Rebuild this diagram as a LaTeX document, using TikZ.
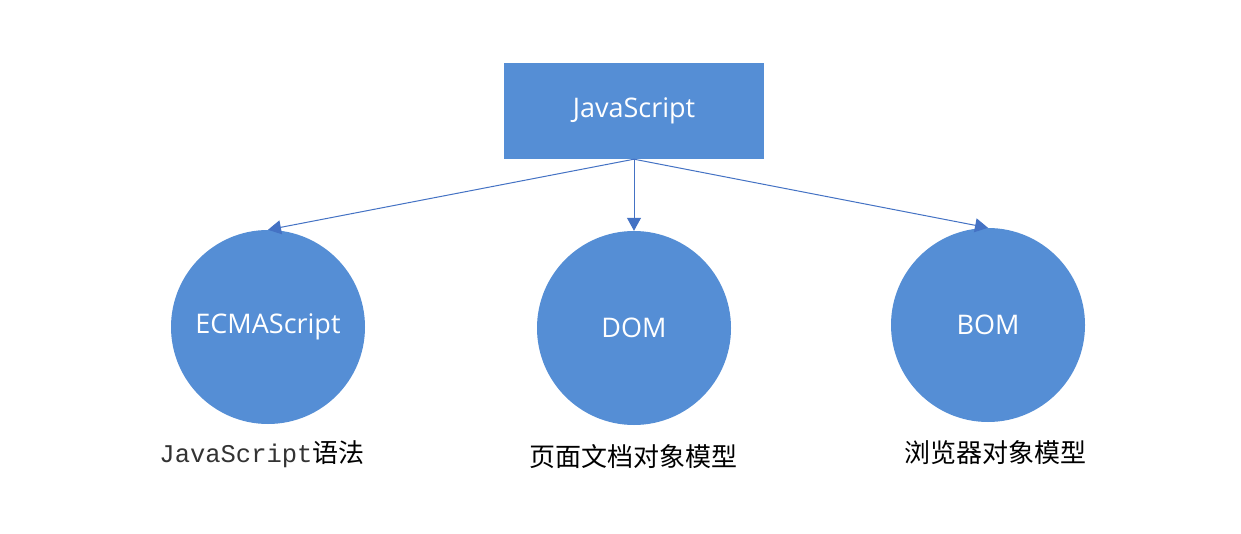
\documentclass[tikz,border=0pt]{standalone}
\usepackage{fontspec}
\setmainfont{Open Sans}
\newfontfamily\cjk{Noto Sans CJK SC}
\newfontfamily\monofnt{Liberation Mono}
\usetikzlibrary{arrows.meta}
\definecolor{boxblue}{HTML}{558ED5}
\definecolor{lineblue}{HTML}{4472C4}
\begin{document}
\begin{tikzpicture}[x=1pt,y=-1pt,
  blk/.style={fill=boxblue,draw=none,text=white,font=\fontsize{27}{31}\selectfont},
  circ/.style={circle,fill=boxblue,draw=none,minimum size=194pt,inner sep=0pt,text=white,font=\fontsize{27}{31}\selectfont},
  conn/.style={draw=lineblue,line width=1pt,-{Triangle[length=13pt,width=14pt]}},
  lbl/.style={font=\fontsize{26}{30}\selectfont\cjk,text=black}]
\useasboundingbox[fill=white] (0,0) rectangle (1241,534);
\node[blk,minimum width=260pt,minimum height=96pt,inner sep=0pt] (js) at (634,111) {JavaScript};
\node[circ] (ecma) at (268,327) {ECMAScript};
\node[circ] (dom) at (634,328) {DOM};
\node[circ] (bom) at (988,325) {BOM};
\coordinate (src) at (js.south);
\draw[conn] (src) -- (ecma.north);
\draw[conn] (src) -- (dom.north);
\draw[conn] (src) -- (bom.north);
\node[lbl,anchor=base] (l1) at (262,462) {{\monofnt\fontsize{25.5}{30}\selectfont\color[HTML]{333333}JavaScript}语法};
\node[lbl,anchor=base] (l2) at (633,466) {页面文档对象模型};
\node[lbl,anchor=base] (l3) at (995,462) {浏览器对象模型};
\end{tikzpicture}
\end{document}
